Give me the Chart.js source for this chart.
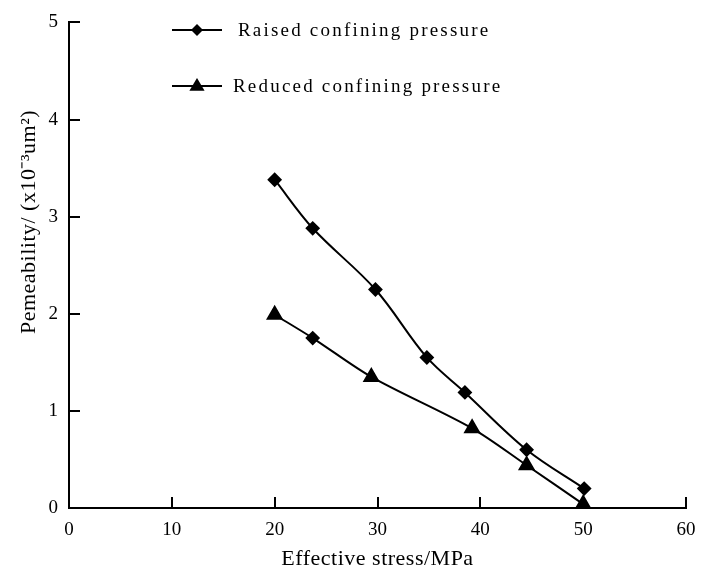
<!DOCTYPE html>
<html>
<head>
<meta charset="utf-8">
<script src="https://cdn.jsdelivr.net/npm/chart.js@4/dist/chart.umd.min.js"></script>
<style>
  html, body { margin: 0; padding: 0; background: #fff; }
  #wrap { width: 708px; height: 566px; }
</style>
</head>
<body>
<div id="wrap"><canvas id="permChart" width="708" height="566"></canvas></div>
<script>
const raisedX = [20, 23.7, 29.8, 34.8, 38.5, 44.5, 50.1];
const raisedY = [3.38, 2.88, 2.25, 1.55, 1.19, 0.60, 0.20];
const reducedX = [20, 23.7, 29.4, 39.2, 44.5, 50];
const reducedY = [1.99, 1.75, 1.35, 0.82, 0.44, 0.04];
const reducedMarks = ['triangle', 'rectRot', 'triangle', 'triangle', 'triangle', 'triangle'];
const xTicks = [0, 10, 20, 30, 40, 50, 60];
const yTicks = [0, 1, 2, 3, 4, 5];
const xTitle = 'Effective stress/MPa';
const yTitle = 'Pemeability/ (x10⁻³um²)';

const serif = '"Liberation Serif", "Times New Roman", serif';

function pts(xs, ys) {
    return xs.map((x, i) => ({ x: x, y: ys[i] }));
}

// inward tick marks, axis titles and the legend inside the plot
const decor = {
    id: 'decor',
    afterDraw(chart) {
        const c = chart.ctx;
        const xs = chart.scales.x, ys = chart.scales.y;
        const area = chart.chartArea;
        c.save();
        c.strokeStyle = '#000';
        c.lineWidth = 2;
        xTicks.forEach(v => {
            const px = Math.round(xs.getPixelForValue(v));
            c.beginPath();
            c.moveTo(px, area.bottom);
            c.lineTo(px, area.bottom - 11);
            c.stroke();
        });
        yTicks.forEach(v => {
            const py = Math.round(ys.getPixelForValue(v));
            c.beginPath();
            c.moveTo(area.left, py);
            c.lineTo(area.left + 11, py);
            c.stroke();
        });

        // axis titles
        c.fillStyle = '#000';
        c.font = '22px ' + serif;
        c.letterSpacing = '0.5px';
        c.textAlign = 'center';
        c.textBaseline = 'alphabetic';
        c.fillText(xTitle, (area.left + area.right) / 2, 565);
        c.save();
        c.translate(35, 222);
        c.rotate(-Math.PI / 2);
        c.fillText(yTitle, 0, 0);
        c.restore();

        // legend
        const rows = [
            { y: 30, textX: 238, ds: chart.data.datasets[0], style: 'rectRot', r: 6 },
            { y: 86, textX: 233, ds: chart.data.datasets[1], style: 'triangle', r: 8 }
        ];
        rows.forEach(row => {
            c.beginPath();
            c.lineWidth = 2;
            c.moveTo(172, row.y);
            c.lineTo(222, row.y);
            c.stroke();
            c.beginPath();
            if (row.style === 'rectRot') {
                c.moveTo(197, row.y - row.r);
                c.lineTo(197 + row.r, row.y);
                c.lineTo(197, row.y + row.r);
                c.lineTo(197 - row.r, row.y);
            } else {
                c.moveTo(197, row.y - row.r);
                c.lineTo(197 + row.r * 0.95, row.y + row.r * 0.6);
                c.lineTo(197 - row.r * 0.95, row.y + row.r * 0.6);
            }
            c.closePath();
            c.fill();
            c.font = '19px ' + serif;
            c.letterSpacing = '2.2px';
            c.textBaseline = 'middle';
            c.textAlign = 'left';
            c.fillText(row.ds.label, row.textX, row.y + 1);
        });
        c.restore();
    }
};

new Chart(document.getElementById('permChart'), {
    type: 'line',
    data: {
        datasets: [
            {
                label: 'Raised confining pressure',
                data: pts(raisedX, raisedY),
                borderColor: '#000',
                backgroundColor: '#000',
                borderWidth: 2,
                pointStyle: 'rectRot',
                pointRadius: 6,
                tension: .35
            },
            {
                label: 'Reduced confining pressure',
                data: pts(reducedX, reducedY),
                borderColor: '#000',
                backgroundColor: '#000',
                borderWidth: 2,
                pointStyle: reducedMarks,
                pointRadius: reducedMarks.map(s => s === 'triangle' ? 8 : 6),
                tension: .3
            }
        ]
    },
    options: {
        responsive: false,
        animation: false,
        layout: { padding: { top: 19, right: 22, left: 0, bottom: 0 } },
        plugins: {
            legend: { display: false },
            tooltip: { enabled: false }
        },
        scales: {
            x: {
                type: 'linear',
                min: 0,
                max: 60,
                afterFit(s) { s.height = 58; },
                afterBuildTicks(s) { s.ticks = xTicks.map(v => ({ value: v })); },
                border: { color: '#000', width: 2 },
                grid: { display: false, drawTicks: false },
                ticks: { color: '#000', padding: 11, font: { family: serif, size: 19 } }
            },
            y: {
                min: 0,
                max: 5,
                afterFit(s) { s.width = 69; },
                afterBuildTicks(s) { s.ticks = yTicks.map(v => ({ value: v })); },
                border: { color: '#000', width: 2 },
                grid: { display: false, drawTicks: false },
                ticks: { color: '#000', padding: 11, font: { family: serif, size: 19 } }
            }
        }
    },
    plugins: [decor]
});
</script>
</body>
</html>
